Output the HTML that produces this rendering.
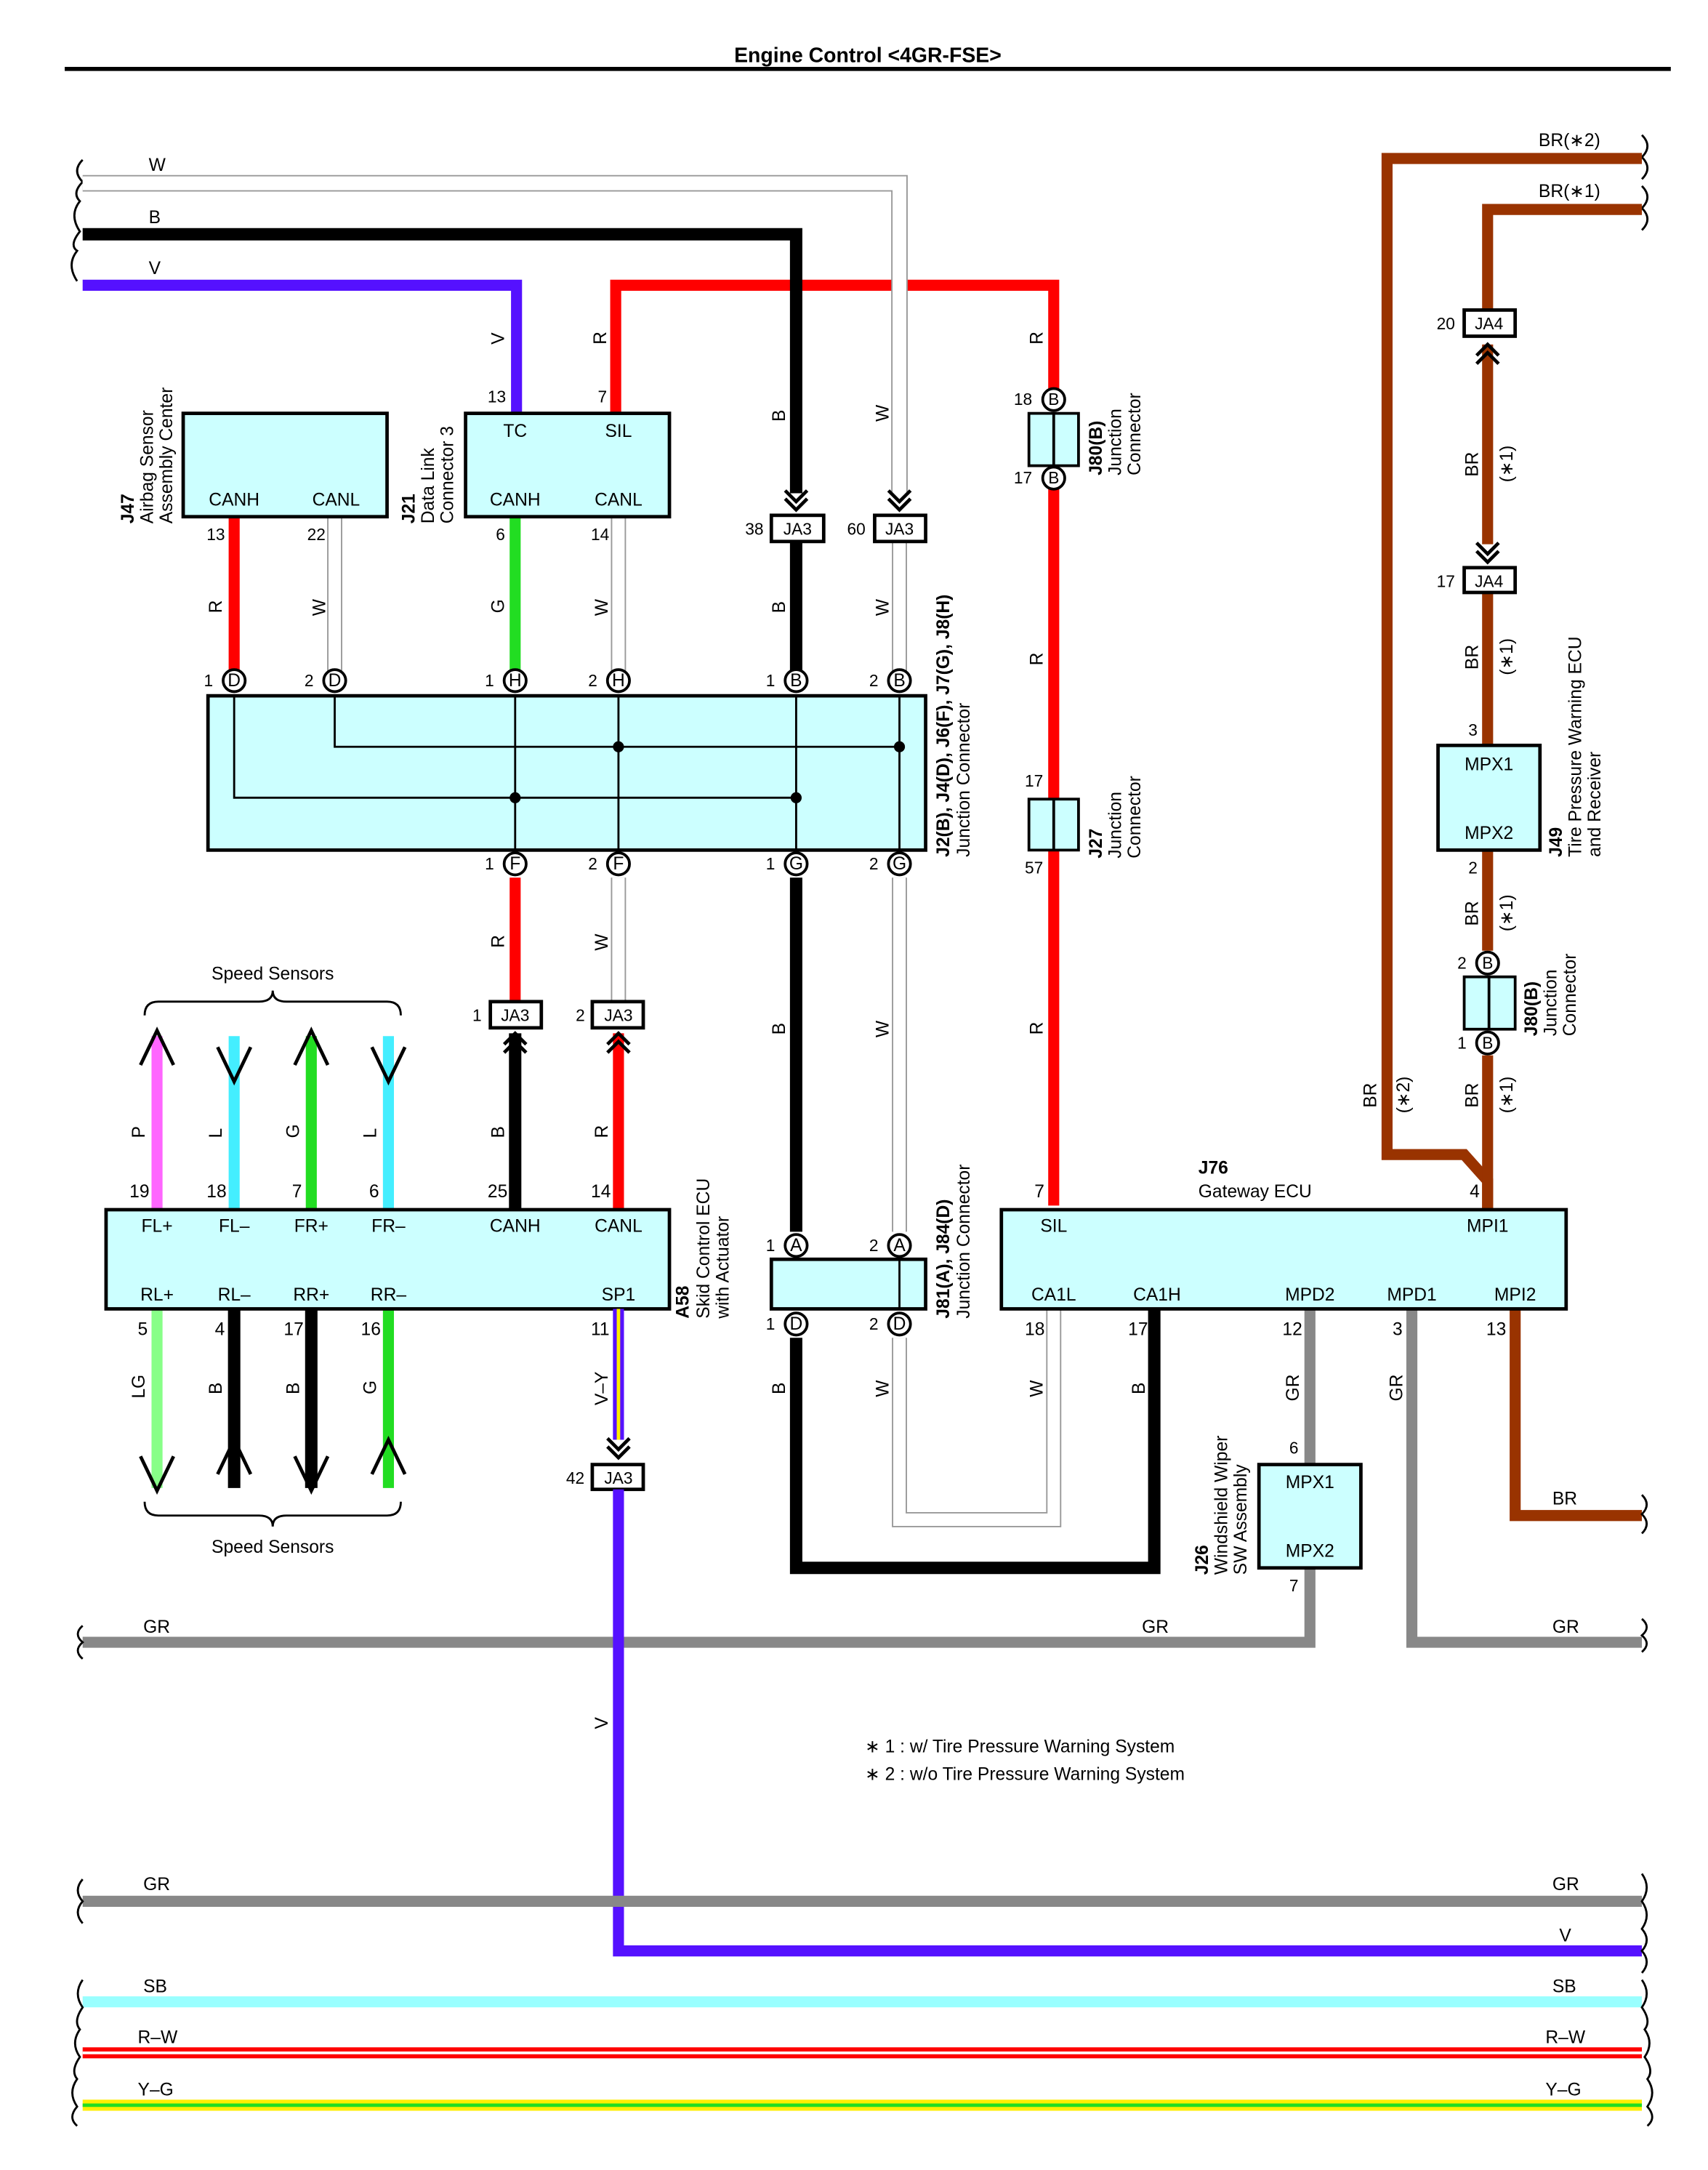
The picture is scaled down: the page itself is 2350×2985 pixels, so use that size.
<!DOCTYPE html>
<html><head><meta charset="utf-8"><style>
html,body{margin:0;padding:0;background:#fff}
svg{display:block}
text{font-family:"Liberation Sans",sans-serif;font-size:13px;fill:#000}
.b{font-weight:bold}
.s{font-size:12px}
</style></head><body>
<svg width="2350" height="2985" viewBox="0 0 1240 1575" xmlns="http://www.w3.org/2000/svg">
<defs>
<g id="cd"><path d="M-8,-16 L0,-8 L8,-16 M-8,-10 L0,-2 L8,-10" fill="none" stroke="#000" stroke-width="2.5"/></g>
<g id="cu"><path d="M-8,16 L0,8 L8,16 M-8,10 L0,2 L8,10" fill="none" stroke="#000" stroke-width="2.5"/></g>
<g id="br"><path d="M0,0 q-6,6 0,12 q6,6 0,12 q-6,6 0,12" fill="none" stroke="#000" stroke-width="1.5"/></g>
</defs>
<text x="630" y="45" text-anchor="middle" class="b" style="font-size:15px">Engine Control &lt;4GR-FSE&gt;</text>
<line x1="47" y1="50" x2="1213" y2="50" stroke="#000" stroke-width="3"/>

<!-- braces -->
<path d="M60,116 q-8,8 0,16 q-8,8 -2,14 q-8,10 0,22 q-8,10 -2,14 q-8,10 0,22" fill="none" stroke="#000" stroke-width="1.5"/>
<path d="M1192,98 q8,8 0,16 q8,8 0,16 M1192,135 q8,8 0,16 q8,8 0,16" fill="none" stroke="#000" stroke-width="1.5"/>

<!-- red top -->
<path d="M447,300 V207 H765 V283" fill="none" stroke="#f00" stroke-width="8"/>
<!-- V top -->
<path d="M60,207 H375 V300" fill="none" stroke="#5511ff" stroke-width="8"/>
<!-- B top -->
<path d="M60,170 H578 V358" fill="none" stroke="#000" stroke-width="9"/>
<!-- W top -->
<path d="M60,133 H653 V358" fill="none" stroke="#999" stroke-width="12"/>
<path d="M60,133 H653 V358" fill="none" stroke="#fff" stroke-width="10"/>
<text x="108" y="124">W</text><text x="108" y="162">B</text><text x="108" y="199">V</text>
<use href="#cd" x="578" y="372"/><use href="#cd" x="653" y="372"/>

<!-- J80B top & red -->
<path d="M765,355 V875" stroke="#f00" stroke-width="8"/>
<rect x="747" y="300" width="36" height="38" fill="#ccffff" stroke="#000" stroke-width="2"/><line x1="765" y1="300" x2="765" y2="338" stroke="#000" stroke-width="2"/>
<rect x="747" y="580" width="36" height="37" fill="#ccffff" stroke="#000" stroke-width="2"/><line x1="765" y1="580" x2="765" y2="617" stroke="#000" stroke-width="2"/>
<circle cx="765" cy="290" r="8" fill="#fff" stroke="#000" stroke-width="2"/><text x="765" y="294" text-anchor="middle" class="s">B</text>
<circle cx="765" cy="347" r="8" fill="#fff" stroke="#000" stroke-width="2"/><text x="765" y="351" text-anchor="middle" class="s">B</text>
<text x="736" y="294" class="s">18</text><text x="736" y="351" class="s">17</text>
<text x="744" y="571" class="s">17</text><text x="744" y="634" class="s">57</text>
<text transform="translate(800,345) rotate(-90)" class="b">J80(B)</text>
<text transform="translate(814,345) rotate(-90)">Junction</text>
<text transform="translate(828,345) rotate(-90)">Connector</text>
<text transform="translate(800,623) rotate(-90)" class="b">J27</text>
<text transform="translate(814,623) rotate(-90)">Junction</text>
<text transform="translate(828,623) rotate(-90)">Connector</text>

<!-- J47 / J21 -->
<path d="M170,375 V494" stroke="#f00" stroke-width="8"/>
<path d="M243,375 V494" stroke="#999" stroke-width="11"/><path d="M243,375 V494" stroke="#fff" stroke-width="9"/>
<path d="M374,375 V494" stroke="#22dd22" stroke-width="8"/>
<path d="M449,375 V494" stroke="#999" stroke-width="11"/><path d="M449,375 V494" stroke="#fff" stroke-width="9"/>
<path d="M578,393 V494" stroke="#000" stroke-width="9"/>
<path d="M653,393 V494" stroke="#999" stroke-width="11"/><path d="M653,393 V494" stroke="#fff" stroke-width="9"/>
<rect x="133" y="300" width="148" height="75" fill="#ccffff" stroke="#000" stroke-width="2.5"/>
<text x="170" y="367" text-anchor="middle">CANH</text><text x="244" y="367" text-anchor="middle">CANL</text>
<rect x="338" y="300" width="148" height="75" fill="#ccffff" stroke="#000" stroke-width="2.5"/>
<text x="374" y="317" text-anchor="middle">TC</text><text x="449" y="317" text-anchor="middle">SIL</text>
<text x="374" y="367" text-anchor="middle">CANH</text><text x="449" y="367" text-anchor="middle">CANL</text>
<text x="354" y="292" class="s">13</text><text x="434" y="292" class="s">7</text>
<text x="150" y="392" class="s">13</text><text x="223" y="392" class="s">22</text><text x="360" y="392" class="s">6</text><text x="429" y="392" class="s">14</text>
<text transform="translate(97,380) rotate(-90)" class="b">J47</text>
<text transform="translate(111,380) rotate(-90)">Airbag Sensor</text>
<text transform="translate(125,380) rotate(-90)">Assembly Center</text>
<text transform="translate(301,380) rotate(-90)" class="b">J21</text>
<text transform="translate(315,380) rotate(-90)">Data Link</text>
<text transform="translate(329,380) rotate(-90)">Connector 3</text>
<rect x="560" y="374" width="38" height="19" fill="#fff" stroke="#000" stroke-width="2.5"/><text x="579" y="388" text-anchor="middle" class="s">JA3</text>
<rect x="635" y="374" width="37" height="19" fill="#fff" stroke="#000" stroke-width="2.5"/><text x="653" y="388" text-anchor="middle" class="s">JA3</text>
<text x="541" y="388" class="s">38</text><text x="615" y="388" class="s">60</text>

<!-- big junction -->
<rect x="151" y="505" width="521" height="112" fill="#ccffff" stroke="#000" stroke-width="2.5"/>
<g stroke="#000" stroke-width="1.5" fill="none">
<path d="M170,505 V579 H578"/><path d="M243,505 V542 H653"/>
<path d="M374,505 V617 M449,505 V617 M578,505 V617 M653,505 V617"/>
</g>
<g fill="#000"><circle cx="449" cy="542" r="4"/><circle cx="653" cy="542" r="4"/><circle cx="374" cy="579" r="4"/><circle cx="578" cy="579" r="4"/></g>
<g stroke="#000" stroke-width="2" fill="#fff">
<circle cx="170" cy="494" r="8"/><circle cx="243" cy="494" r="8"/><circle cx="374" cy="494" r="8"/><circle cx="449" cy="494" r="8"/><circle cx="578" cy="494" r="8"/><circle cx="653" cy="494" r="8"/>
</g>
<g class="s" text-anchor="middle">
<text x="170" y="498">D</text><text x="243" y="498">D</text><text x="374" y="498">H</text><text x="449" y="498">H</text><text x="578" y="498">B</text><text x="653" y="498">B</text>
</g>
<text x="148" y="498" class="s">1</text><text x="221" y="498" class="s">2</text><text x="352" y="498" class="s">1</text><text x="427" y="498" class="s">2</text><text x="556" y="498" class="s">1</text><text x="631" y="498" class="s">2</text>
<text transform="translate(689,622) rotate(-90)" class="b">J2(B), J4(D), J6(F), J7(G), J8(H)</text>
<text transform="translate(704,622) rotate(-90)">Junction Connector</text>

<!-- below junction -->
<path d="M374,637 V727" stroke="#f00" stroke-width="8"/>
<path d="M449,637 V727" stroke="#999" stroke-width="11"/><path d="M449,637 V727" stroke="#fff" stroke-width="9"/>
<path d="M374,750 V878" stroke="#000" stroke-width="9"/>
<path d="M449,750 V878" stroke="#f00" stroke-width="8"/>
<path d="M578,637 V894" stroke="#000" stroke-width="9"/>
<path d="M653,637 V894" stroke="#999" stroke-width="11"/><path d="M653,637 V894" stroke="#fff" stroke-width="9"/>
<g stroke="#000" stroke-width="2" fill="#fff">
<circle cx="374" cy="627" r="8"/><circle cx="449" cy="627" r="8"/><circle cx="578" cy="627" r="8"/><circle cx="653" cy="627" r="8"/>
</g>
<g class="s" text-anchor="middle"><text x="374" y="631">F</text><text x="449" y="631">F</text><text x="578" y="631">G</text><text x="653" y="631">G</text></g>
<text x="352" y="631" class="s">1</text><text x="427" y="631" class="s">2</text><text x="556" y="631" class="s">1</text><text x="631" y="631" class="s">2</text>
<rect x="356" y="727" width="37" height="19" fill="#fff" stroke="#000" stroke-width="2.5"/><text x="374" y="741" text-anchor="middle" class="s">JA3</text>
<rect x="430" y="727" width="37" height="19" fill="#fff" stroke="#000" stroke-width="2.5"/><text x="449" y="741" text-anchor="middle" class="s">JA3</text>
<text x="343" y="741" class="s">1</text><text x="418" y="741" class="s">2</text>
<use href="#cu" x="374" y="748"/><use href="#cu" x="449" y="748"/>

<!-- speed sensors -->
<text x="198" y="711" text-anchor="middle">Speed Sensors</text>
<path d="M105,737 q0,-10 10,-10 H188 q10,0 10,-8 q0,8 10,8 H281 q10,0 10,10" fill="none" stroke="#000" stroke-width="1.5"/>
<path d="M114,878 V752" stroke="#ff66ff" stroke-width="8"/>
<path d="M170,878 V752" stroke="#44eeff" stroke-width="8"/>
<path d="M226,878 V752" stroke="#22dd22" stroke-width="8"/>
<path d="M282,878 V752" stroke="#44eeff" stroke-width="8"/>
<g fill="none" stroke="#000" stroke-width="2.5">
<path d="M102,773 L114,748 L126,773"/><path d="M158,760 L170,785 L182,760"/>
<path d="M214,773 L226,748 L238,773"/><path d="M270,760 L282,785 L294,760"/>
</g>
<path d="M114,950 V1080" stroke="#88ff88" stroke-width="8"/>
<path d="M170,950 V1080" stroke="#000" stroke-width="9"/>
<path d="M226,950 V1080" stroke="#000" stroke-width="9"/>
<path d="M282,950 V1080" stroke="#22dd22" stroke-width="8"/>
<g fill="none" stroke="#000" stroke-width="2.5">
<path d="M102,1057 L114,1082 L126,1057"/><path d="M158,1070 L170,1045 L182,1070"/>
<path d="M214,1057 L226,1082 L238,1057"/><path d="M270,1070 L282,1045 L294,1070"/>
</g>
<path d="M105,1090 q0,10 10,10 H188 q10,0 10,8 q0,-8 10,-8 H281 q10,0 10,-10" fill="none" stroke="#000" stroke-width="1.5"/>
<text x="198" y="1127" text-anchor="middle">Speed Sensors</text>

<!-- A58 -->
<rect x="77" y="878" width="409" height="72" fill="#ccffff" stroke="#000" stroke-width="2.5"/>
<g text-anchor="middle">
<text x="114" y="894">FL+</text><text x="170" y="894">FL–</text><text x="226" y="894">FR+</text><text x="282" y="894">FR–</text><text x="374" y="894">CANH</text><text x="449" y="894">CANL</text>
<text x="114" y="944">RL+</text><text x="170" y="944">RL–</text><text x="226" y="944">RR+</text><text x="282" y="944">RR–</text><text x="449" y="944">SP1</text>
</g>
<g class="s">
<text x="94" y="869">19</text><text x="150" y="869">18</text><text x="212" y="869">7</text><text x="268" y="869">6</text><text x="354" y="869">25</text><text x="429" y="869">14</text>
<text x="100" y="969">5</text><text x="156" y="969">4</text><text x="206" y="969">17</text><text x="262" y="969">16</text><text x="429" y="969">11</text>
</g>
<text transform="translate(500,957) rotate(-90)" class="b">A58</text>
<text transform="translate(515,957) rotate(-90)">Skid Control ECU</text>
<text transform="translate(529,957) rotate(-90)">with Actuator</text>

<!-- SP1 -->
<path d="M449,950 V1045" stroke="#5511ff" stroke-width="8"/><path d="M449,950 V1045" stroke="#ffee00" stroke-width="2.5"/>
<use href="#cd" x="449" y="1060"/>
<rect x="430" y="1063" width="37" height="18" fill="#fff" stroke="#000" stroke-width="2.5"/><text x="449" y="1077" text-anchor="middle" class="s">JA3</text>
<text x="411" y="1077" class="s">42</text>

<!-- J81 -->
<path d="M578,971 V1138 H838 V950" fill="none" stroke="#000" stroke-width="9"/>
<path d="M653,971 V1103 H765 V950" fill="none" stroke="#999" stroke-width="11"/><path d="M653,971 V1103 H765 V950" fill="none" stroke="#fff" stroke-width="9"/>
<rect x="560" y="914" width="112" height="36" fill="#ccffff" stroke="#000" stroke-width="2.5"/>
<line x1="653" y1="914" x2="653" y2="950" stroke="#000" stroke-width="1.5"/>
<g stroke="#000" stroke-width="2" fill="#fff"><circle cx="578" cy="904" r="8"/><circle cx="653" cy="904" r="8"/><circle cx="578" cy="961" r="8"/><circle cx="653" cy="961" r="8"/></g>
<g class="s" text-anchor="middle"><text x="578" y="908">A</text><text x="653" y="908">A</text><text x="578" y="965">D</text><text x="653" y="965">D</text></g>
<text x="556" y="908" class="s">1</text><text x="631" y="908" class="s">2</text><text x="556" y="965" class="s">1</text><text x="631" y="965" class="s">2</text>
<text transform="translate(689,957) rotate(-90)" class="b">J81(A), J84(D)</text>
<text transform="translate(704,957) rotate(-90)">Junction Connector</text>

<!-- GR lines -->
<path d="M951,950 V1063" stroke="#888" stroke-width="8"/>
<path d="M951,1138 V1192 H60" fill="none" stroke="#888" stroke-width="8"/>
<path d="M1025,950 V1192 H1192" fill="none" stroke="#888" stroke-width="8"/>
<rect x="914" y="1063" width="74" height="75" fill="#ccffff" stroke="#000" stroke-width="2.5"/>
<text x="951" y="1080" text-anchor="middle">MPX1</text><text x="951" y="1130" text-anchor="middle">MPX2</text>
<text x="936" y="1055" class="s">6</text><text x="936" y="1155" class="s">7</text>
<text transform="translate(877,1143) rotate(-90)" class="b">J26</text>
<text transform="translate(891,1143) rotate(-90)">Windshield Wiper</text>
<text transform="translate(905,1143) rotate(-90)">SW Assembly</text>
<text x="104" y="1185">GR</text><text x="829" y="1185">GR</text><text x="1127" y="1185">GR</text>
<path d="M60,1180 q-7,6 0,12 q-7,6 0,12 M1192,1175 q7,6 0,12 q7,6 0,12" fill="none" stroke="#000" stroke-width="1.5"/>

<!-- brown -->
<path d="M1192,115 H1007 V838 H1063 L1080,857 V878" fill="none" stroke="#993300" stroke-width="8"/>
<path d="M1192,152 H1080 V225" fill="none" stroke="#993300" stroke-width="8"/>
<path d="M1080,250 V395 M1080,430 V541 M1080,617 V690 M1080,766 V878" fill="none" stroke="#993300" stroke-width="8"/>
<path d="M1100,950 V1100 H1192" fill="none" stroke="#993300" stroke-width="8"/>
<path d="M1192,1085 q7,7 0,14 q7,7 0,14" fill="none" stroke="#000" stroke-width="1.5"/>
<text x="1117" y="106">BR(∗2)</text><text x="1117" y="143">BR(∗1)</text><text x="1127" y="1092">BR</text>
<rect x="1063" y="225" width="37" height="19" fill="#fff" stroke="#000" stroke-width="2.5"/><text x="1081" y="239" text-anchor="middle" class="s">JA4</text>
<text x="1043" y="239" class="s">20</text>
<use href="#cu" x="1080" y="248"/>
<use href="#cd" x="1080" y="410"/>
<rect x="1063" y="412" width="37" height="18" fill="#fff" stroke="#000" stroke-width="2.5"/><text x="1081" y="426" text-anchor="middle" class="s">JA4</text>
<text x="1043" y="426" class="s">17</text>
<rect x="1044" y="541" width="74" height="76" fill="#ccffff" stroke="#000" stroke-width="2.5"/>
<text x="1081" y="559" text-anchor="middle">MPX1</text><text x="1081" y="609" text-anchor="middle">MPX2</text>
<text x="1066" y="534" class="s">3</text><text x="1066" y="634" class="s">2</text>
<text transform="translate(1134,622) rotate(-90)" class="b">J49</text>
<text transform="translate(1148,622) rotate(-90)">Tire Pressure Warning ECU</text>
<text transform="translate(1162,622) rotate(-90)">and Receiver</text>
<rect x="1063" y="709" width="37" height="38" fill="#ccffff" stroke="#000" stroke-width="2"/><line x1="1081" y1="709" x2="1081" y2="747" stroke="#000" stroke-width="2"/>
<circle cx="1080" cy="699" r="8" fill="#fff" stroke="#000" stroke-width="2"/><text x="1080" y="703" text-anchor="middle" class="s">B</text>
<circle cx="1080" cy="757" r="8" fill="#fff" stroke="#000" stroke-width="2"/><text x="1080" y="761" text-anchor="middle" class="s">B</text>
<text x="1058" y="703" class="s">2</text><text x="1058" y="761" class="s">1</text>
<text transform="translate(1116,752) rotate(-90)" class="b">J80(B)</text>
<text transform="translate(1130,752) rotate(-90)">Junction</text>
<text transform="translate(1144,752) rotate(-90)">Connector</text>

<!-- J76 -->
<rect x="727" y="878" width="410" height="72" fill="#ccffff" stroke="#000" stroke-width="2.5"/>
<text x="870" y="852" class="b">J76</text><text x="870" y="869">Gateway ECU</text>
<text x="765" y="894" text-anchor="middle">SIL</text><text x="1080" y="894" text-anchor="middle">MPI1</text>
<g text-anchor="middle"><text x="765" y="944">CA1L</text><text x="840" y="944">CA1H</text><text x="951" y="944">MPD2</text><text x="1025" y="944">MPD1</text><text x="1100" y="944">MPI2</text></g>
<g class="s"><text x="751" y="869">7</text><text x="1067" y="869">4</text><text x="744" y="969">18</text><text x="819" y="969">17</text><text x="931" y="969">12</text><text x="1011" y="969">3</text><text x="1079" y="969">13</text></g>

<!-- V big -->
<path d="M449,1081 V1416 H1192" fill="none" stroke="#5511ff" stroke-width="8"/>

<!-- bottom buses -->
<path d="M60,1380 H1192" stroke="#888" stroke-width="8"/>
<path d="M60,1453 H1192" stroke="#99ffff" stroke-width="8"/>
<path d="M60,1490 H1192" stroke="#f00" stroke-width="8"/><path d="M60,1490 H1192" stroke="#fff" stroke-width="2"/>
<path d="M60,1528 H1192" stroke="#ffee00" stroke-width="8"/><path d="M60,1528 H1192" stroke="#22dd22" stroke-width="2.5"/>
<text x="104" y="1372">GR</text><text x="1127" y="1372">GR</text><text x="1132" y="1409">V</text>
<text x="104" y="1446">SB</text><text x="1127" y="1446">SB</text>
<text x="100" y="1483">R–W</text><text x="1122" y="1483">R–W</text>
<text x="100" y="1521">Y–G</text><text x="1122" y="1521">Y–G</text>
<path d="M60,1364 q-7,8 0,16 q-7,8 0,16 M60,1437 q-7,10 0,20 q-7,10 -2,16 q-7,10 0,20 q-7,10 -2,16 q-7,10 0,20 q-7,8 0,14" fill="none" stroke="#000" stroke-width="1.5"/>
<path d="M1192,1360 q7,10 0,20 q7,10 0,20 q7,8 0,16 q7,8 0,16 M1192,1437 q7,10 0,20 q7,10 2,16 q7,10 0,20 q7,10 2,16 q7,10 0,20 q7,8 0,14" fill="none" stroke="#000" stroke-width="1.5"/>

<text x="628" y="1272">∗ 1 : w/ Tire Pressure Warning System</text>
<text x="628" y="1292">∗ 2 : w/o Tire Pressure Warning System</text>

<!-- rotated wire labels -->
<g class="s">
<text transform="translate(366,250) rotate(-90)">V</text>
<text transform="translate(440,250) rotate(-90)">R</text>
<text transform="translate(570,306) rotate(-90)">B</text>
<text transform="translate(645,306) rotate(-90)">W</text>
<text transform="translate(757,250) rotate(-90)">R</text>
<text transform="translate(161,445) rotate(-90)">R</text>
<text transform="translate(236,447) rotate(-90)">W</text>
<text transform="translate(366,445) rotate(-90)">G</text>
<text transform="translate(441,447) rotate(-90)">W</text>
<text transform="translate(570,445) rotate(-90)">B</text>
<text transform="translate(645,447) rotate(-90)">W</text>
<text transform="translate(757,483) rotate(-90)">R</text>
<text transform="translate(366,688) rotate(-90)">R</text>
<text transform="translate(441,690) rotate(-90)">W</text>
<text transform="translate(570,751) rotate(-90)">B</text>
<text transform="translate(645,753) rotate(-90)">W</text>
<text transform="translate(757,751) rotate(-90)">R</text>
<text transform="translate(105,826) rotate(-90)">P</text>
<text transform="translate(161,826) rotate(-90)">L</text>
<text transform="translate(217,826) rotate(-90)">G</text>
<text transform="translate(273,826) rotate(-90)">L</text>
<text transform="translate(366,826) rotate(-90)">B</text>
<text transform="translate(441,826) rotate(-90)">R</text>
<text transform="translate(105,1015) rotate(-90)">LG</text>
<text transform="translate(161,1012) rotate(-90)">B</text>
<text transform="translate(217,1012) rotate(-90)">B</text>
<text transform="translate(273,1012) rotate(-90)">G</text>
<text transform="translate(441,1020) rotate(-90)">V–Y</text>
<text transform="translate(570,1012) rotate(-90)">B</text>
<text transform="translate(645,1014) rotate(-90)">W</text>
<text transform="translate(757,1014) rotate(-90)">W</text>
<text transform="translate(831,1012) rotate(-90)">B</text>
<text transform="translate(943,1017) rotate(-90)">GR</text>
<text transform="translate(1018,1017) rotate(-90)">GR</text>
<text transform="translate(441,1255) rotate(-90)">V</text>
<text transform="translate(1073,346) rotate(-90)">BR</text>
<text transform="translate(1073,486) rotate(-90)">BR</text>
<text transform="translate(1073,672) rotate(-90)">BR</text>
<text transform="translate(1073,804) rotate(-90)">BR</text>
<text transform="translate(999,804) rotate(-90)">BR</text>
<text transform="translate(1098,350) rotate(-90)">(∗1)</text>
<text transform="translate(1098,490) rotate(-90)">(∗1)</text>
<text transform="translate(1098,676) rotate(-90)">(∗1)</text>
<text transform="translate(1098,808) rotate(-90)">(∗1)</text>
<text transform="translate(1023,808) rotate(-90)">(∗2)</text>
</g>
</svg>
</body></html>
